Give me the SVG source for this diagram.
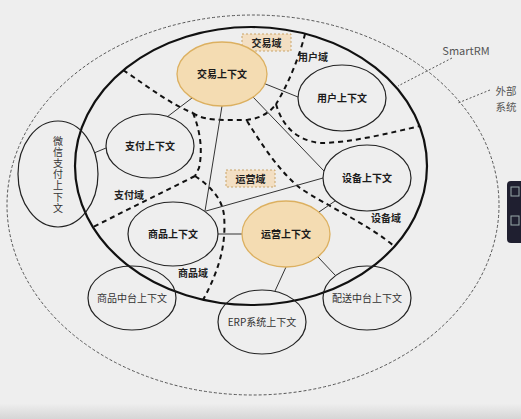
<svg xmlns="http://www.w3.org/2000/svg" width="521" height="419" viewBox="0 0 521 419">
<defs>
<linearGradient id="bot" x1="0" y1="0" x2="0" y2="1">
<stop offset="0" stop-color="#ededed"/>
<stop offset="1" stop-color="#d6d6d6"/>
</linearGradient>
</defs>
<style>
text{font-family:"Noto Sans CJK SC","Liberation Sans",sans-serif;text-anchor:middle;}
.ctx{font-size:10px;font-weight:bold;fill:#1a1a1a;}
.ext{font-size:10px;fill:#333;}
.dom{font-size:10px;font-weight:bold;fill:#222;}
.lbl{font-size:11px;fill:#555;}
.node{fill:none;stroke:#222;stroke-width:1.2;}
.core{fill:#f4dcb2;stroke:#dcb060;stroke-width:1.3;}
.box{fill:#f3dfc3;stroke:#c9a468;stroke-width:1;stroke-dasharray:2 2;}
.conn{fill:none;stroke:#333;stroke-width:1;}
.bound{fill:none;stroke:#111;stroke-width:2;stroke-dasharray:5 4;}
.lead{fill:none;stroke:#555;stroke-width:1;stroke-dasharray:2 2;}
</style>
<rect width="521" height="419" fill="#eeeeee"/>
<rect x="0" y="404" width="521" height="15" fill="url(#bot)"/>
<rect x="507" y="181" width="20" height="62" rx="4" fill="#1f1f30"/>
<rect x="511" y="187" width="8" height="9" fill="none" stroke="#9aa" stroke-width="1"/>
<rect x="511" y="216" width="8" height="9" fill="none" stroke="#9aa" stroke-width="1"/>

<g id="outer-system">
<ellipse cx="253" cy="205" rx="246" ry="190" fill="none" stroke="#555" stroke-width="1" stroke-dasharray="3 2"/>
</g>
<g id="smartrm">
<ellipse cx="251" cy="166" rx="176" ry="139" fill="none" stroke="#111" stroke-width="2.2"/>
</g>

<g id="boundaries">
<path class="bound" d="M123,70 C150,88 170,104 193,113"/>
<path class="bound" d="M193,113 C200,118 210,120 225,120 L247,120 C262,118 270,112 276,104"/>
<path class="bound" d="M305,34 C300,55 288,85 276,104"/>
<path class="bound" d="M276,104 C282,125 295,140 320,143 C350,143 390,133 420,126"/>
<path class="bound" d="M193,113 C200,130 203,150 199,168 L195,176"/>
<path class="bound" d="M195,176 L93,227"/>
<path class="bound" d="M195,176 C210,186 222,198 224,215 C226,240 222,265 203,300"/>
<path class="bound" d="M247,121 C262,145 280,172 300,188 C325,205 370,225 395,247"/>
</g>

<g id="connectors">
<line class="conn" x1="263" y1="83" x2="298" y2="97"/>
<line class="conn" x1="192" y1="98" x2="167" y2="117"/>
<line class="conn" x1="222" y1="106" x2="205" y2="211"/>
<line class="conn" x1="253" y1="97" x2="324" y2="171"/>
<line class="conn" x1="206" y1="211" x2="323" y2="178"/>
<line class="conn" x1="218" y1="234" x2="242" y2="234"/>
<line class="conn" x1="319" y1="212" x2="335" y2="201"/>
<line class="conn" x1="286" y1="267" x2="275" y2="291"/>
<line class="conn" x1="318" y1="257" x2="335" y2="275"/>
<line class="conn" x1="94" y1="153" x2="106" y2="148"/>
<line class="lead" x1="452" y1="58" x2="398" y2="86"/>
<line class="lead" x1="490" y1="90" x2="458" y2="103"/>
</g>

<g id="trade-domain">
<rect class="box" x="242" y="34" width="49" height="17"/>
<text class="dom" x="266.5" y="46.5">交易域</text>
</g>
<g id="ops-domain">
<rect class="box" x="226" y="170" width="49" height="17"/>
<text class="dom" x="250.5" y="182.5">运营域</text>
</g>
<g id="domain-labels">
<text class="dom" x="313" y="61">用户域</text>
<text class="dom" x="129" y="199">支付域</text>
<text class="dom" x="386" y="222">设备域</text>
<text class="dom" x="193" y="277">商品域</text>
</g>

<g id="trade-ctx">
<ellipse class="core" cx="222" cy="74" rx="45" ry="32"/>
<text class="ctx" x="222" y="78">交易上下文</text>
</g>
<g id="user-ctx">
<ellipse class="node" cx="342" cy="98" rx="44" ry="33"/>
<text class="ctx" x="342" y="102">用户上下文</text>
</g>
<g id="pay-ctx">
<ellipse class="node" cx="150" cy="146" rx="44" ry="32"/>
<text class="ctx" x="150" y="150">支付上下文</text>
</g>
<g id="goods-ctx">
<ellipse class="node" cx="173" cy="234" rx="45" ry="32"/>
<text class="ctx" x="173" y="238">商品上下文</text>
</g>
<g id="device-ctx">
<ellipse class="node" cx="367" cy="178" rx="44" ry="33"/>
<text class="ctx" x="367" y="182">设备上下文</text>
</g>
<g id="ops-ctx">
<ellipse class="core" cx="286" cy="234" rx="44" ry="33"/>
<text class="ctx" x="286" y="238">运营上下文</text>
</g>
<g id="wechat-ctx">
<ellipse class="node" cx="58" cy="174" rx="40" ry="53"/>
<text class="ext" x="58" y="175" writing-mode="vertical-rl" letter-spacing="1.2" style="writing-mode:vertical-rl">微信支付上下文</text>
</g>
<g id="goods-mid-ctx">
<ellipse class="node" cx="132" cy="298" rx="44" ry="32"/>
<text class="ext" x="132" y="302">商品中台上下文</text>
</g>
<g id="erp-ctx">
<ellipse class="node" cx="262" cy="322" rx="44" ry="32"/>
<text class="ext" x="262" y="326">ERP系统上下文</text>
</g>
<g id="delivery-ctx">
<ellipse class="node" cx="367" cy="298" rx="44" ry="32"/>
<text class="ext" x="367" y="302">配送中台上下文</text>
</g>

<g id="labels">
<text class="lbl" x="466" y="55">SmartRM</text>
<text class="lbl" x="506" y="95" font-size="10.5" style="font-size:10.5px">外部</text>
<text class="lbl" x="506" y="111" font-size="10.5" style="font-size:10.5px">系统</text>
</g>
</svg>
